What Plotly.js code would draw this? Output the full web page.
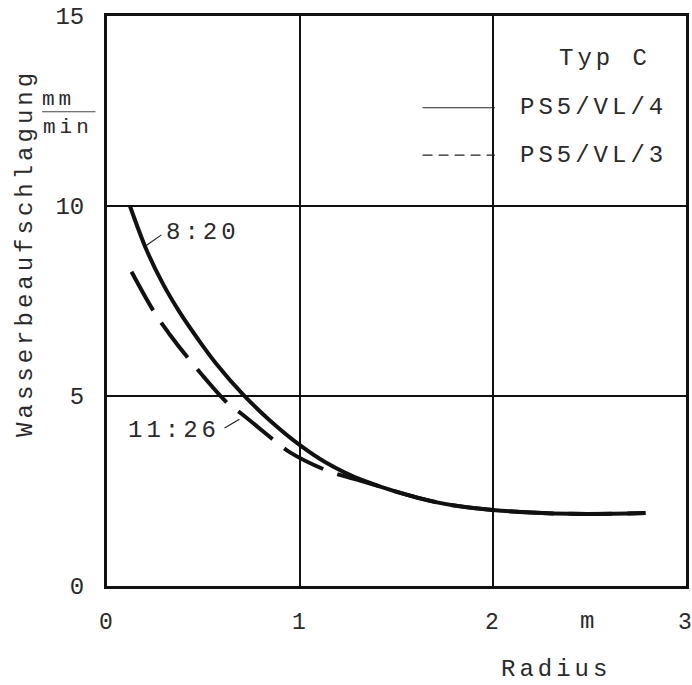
<!DOCTYPE html>
<html>
<head>
<meta charset="utf-8">
<script src="https://cdn.plot.ly/plotly-3.0.1.min.js"></script>
<style>
html,body{margin:0;padding:0;background:#fff;}
#chart{width:692px;height:685px;}
#chart .annotation-text{letter-spacing:4px;}
</style>
</head>
<body>
<div id="chart"></div>
<script>
// Data
const radiusSolid = [0.119, 0.205, 0.29, 0.377, 0.471, 0.566, 0.703, 0.841, 0.996, 1.134, 1.32, 1.71, 2.0, 2.4, 2.79];
const waterSolid  = [10.0, 8.84, 7.95, 7.2, 6.5, 5.85, 5.05, 4.37, 3.72, 3.25, 2.79, 2.2, 2.0, 1.9, 1.92];
const radiusDashed = [0.127, 0.248, 0.325, 0.428, 0.635, 0.695, 0.884, 0.944, 1.134, 1.32, 1.71, 2.0, 2.4, 2.79];
const waterDashed  = [8.27, 7.18, 6.62, 5.95, 4.76, 4.54, 3.76, 3.53, 3.05, 2.76, 2.2, 2.0, 1.9, 1.92];
const seriesNames = ["PS5/VL/4", "PS5/VL/3"];
const legendTitle = "Typ C";
const xTicks = [0, 1, 2, 3];
const yTicks = [0, 5, 10, 15];
const labelSolid = "8:20";
const labelDashed = "11:26";
const yTitle = "Wasserbeaufschlagung";
const xTitle = "Radius";
const xUnit = "m";
const yUnitTop = "mm";
const yUnitBottom = "min";

const FONT = "Liberation Mono, Courier New, monospace";
const TXT = "#2a2a2a";

const traces = [
  {x: radiusSolid, y: waterSolid, type: "scatter", mode: "lines", name: seriesNames[0],
   line: {color: "#111", width: 4, shape: "spline", smoothing: 1}, showlegend: false},
  {x: radiusDashed, y: waterDashed, type: "scatter", mode: "lines", name: seriesNames[1],
   line: {color: "#111", width: 4, shape: "spline", smoothing: 1, dash: "44px,15px"}, showlegend: false}
];

function txt(size){ return {family: FONT, size: size, color: TXT}; }
function ann(x, y, text, size, extra){
  return Object.assign({xref: "paper", yref: "paper", x: x, y: y, text: text, showarrow: false,
    xanchor: "center", yanchor: "middle", font: txt(size)}, extra || {});
}

const layout = {
  width: 692, height: 685,
  margin: {l: 107, r: 6, t: 16, b: 99},
  paper_bgcolor: "#fff", plot_bgcolor: "#fff",
  font: txt(24),
  xaxis: {range: [0, 3], tickvals: xTicks, ticktext: xTicks.map(String),
    showgrid: true, gridcolor: "#111", gridwidth: 1.5, zeroline: false,
    showline: true, linecolor: "#111", linewidth: 3, mirror: true,
    ticks: "", ticklabelstandoff: 12, ticklabelshift: -1, ticklabeloverflow: "allow", tickfont: txt(23)},
  yaxis: {range: [0, 15], tickvals: yTicks, ticktext: yTicks.map(String),
    showgrid: true, gridcolor: "#111", gridwidth: 1.5, zeroline: false,
    showline: true, linecolor: "#111", linewidth: 3, mirror: true,
    ticks: "", ticklabelstandoff: 15, tickfont: txt(24)},
  annotations: [
    ann(-0.141, 0.585, yTitle, 24, {textangle: -90}),
    ann(-0.084, 0.853, yUnitTop, 21),
    ann(-0.067, 0.804, yUnitBottom, 21),
    ann(0.833, -0.063, xUnit, 24),
    ann(0.776, -0.147, xTitle, 24),
    {x: 0.498, y: 9.3, text: labelSolid, showarrow: false, xanchor: "center", yanchor: "middle", font: txt(24)},
    {x: 0.346, y: 4.1, text: labelDashed, showarrow: false, xanchor: "center", yanchor: "middle", font: txt(24)},
    ann(0.86, 0.925, legendTitle, 24),
    ann(0.84, 0.839, seriesNames[0], 24),
    ann(0.84, 0.756, seriesNames[1], 24)
  ],
  shapes: [
    {type: "line", xref: "paper", yref: "paper", x0: -0.112, x1: -0.02, y0: 0.832, y1: 0.832,
     line: {color: "#444", width: 1}},
    {type: "line", x0: 0.205, y0: 8.97, x1: 0.282, y1: 9.24, line: {color: "#222", width: 1.2}},
    {type: "line", x0: 0.609, y0: 4.16, x1: 0.686, y1: 4.39, line: {color: "#222", width: 1.2}},
    {type: "line", xref: "paper", yref: "paper", x0: 0.545, x1: 0.67, y0: 0.839, y1: 0.839,
     line: {color: "#222", width: 1.2}},
    {type: "line", xref: "paper", yref: "paper", x0: 0.545, x1: 0.67, y0: 0.756, y1: 0.756,
     line: {color: "#222", width: 1.2, dash: "10px,6px"}}
  ]
};

Plotly.newPlot("chart", traces, layout, {staticPlot: true, displayModeBar: false});
</script>
</body>
</html>
